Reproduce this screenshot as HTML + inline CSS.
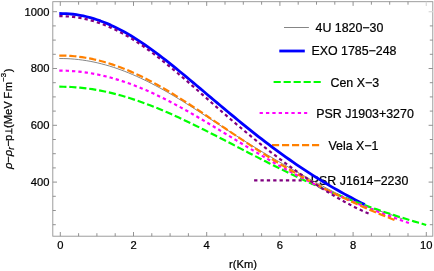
<!DOCTYPE html>
<html><head><meta charset="utf-8"><title>plot</title>
<style>
html,body{margin:0;padding:0;background:#fff;}
body{width:434px;height:271px;overflow:hidden;}
svg{display:block;will-change:transform;}
text{font-family:"Liberation Sans",sans-serif;fill:#000;stroke:#000;stroke-width:0.22px;}
.t{font-size:11.2px;}
.l{font-size:12.4px;stroke-width:0.1px;}
</style></head><body>
<svg width="434" height="271" viewBox="0 0 434 271">
<rect width="434" height="271" fill="#fff"/>
<g fill="none">
<path d="M284,27.5 H308.9" stroke="#777" stroke-width="0.9"/>
<path d="M279.3,51 H304.8" stroke="#0000ff" stroke-width="2.8"/>
<path d="M273.6,82 H320.8" stroke="#00ff00" stroke-width="2.2" stroke-dasharray="7.15 2.85"/>
<path d="M259.6,113 H307.2" stroke="#ff00ff" stroke-width="2.2" stroke-dasharray="3.3 3.06"/>
<path d="M272,145.05 H319.4" stroke="#ff8000" stroke-width="2.2" stroke-dasharray="7.15 2.85"/>
<path d="M254.1,180.45 H301.7" stroke="#800080" stroke-width="2.2" stroke-dasharray="3.3 3.06"/>
</g>
<g class="l">
<text x="315.5" y="32">4U 1820−30</text>
<text x="311.4" y="55.4">EXO 1785−248</text>
<text x="330.5" y="86.7">Cen X−3</text>
<text x="316.3" y="117.8">PSR J1903+3270</text>
<text x="328.5" y="149.6">Vela X−1</text>
<text x="310.8" y="184.7">PSR J1614−2230</text>
</g>
<g fill="none" stroke-linecap="butt" stroke-linejoin="round">
<path d="M59.30,58.52 L63.15,58.54 L67.00,58.65 L70.85,58.86 L74.70,59.16 L78.55,59.56 L82.40,60.05 L86.25,60.63 L90.10,61.31 L93.96,62.07 L97.81,62.93 L101.66,63.88 L105.51,64.91 L109.36,66.03 L113.21,67.24 L117.06,68.53 L120.91,69.91 L124.76,71.36 L128.61,72.89 L132.46,74.50 L136.31,76.18 L140.16,77.94 L144.01,79.76 L147.86,81.65 L151.71,83.61 L155.56,85.63 L159.41,87.70 L163.27,89.83 L167.12,92.01 L170.97,94.24 L174.82,96.52 L178.67,98.84 L182.52,101.19 L186.37,103.59 L190.22,106.01 L194.07,108.45 L197.92,110.92 L201.77,113.41 L205.62,115.91 L209.47,118.42 L213.32,120.93 L217.17,123.44 L221.02,125.95 L224.87,128.45 L228.72,130.94 L232.58,133.41 L236.43,135.87 L240.28,138.32 L244.13,140.74 L247.98,143.14 L251.83,145.52 L255.68,147.88 L259.53,150.21 L263.38,152.53 L267.23,154.82 L271.08,157.09 L274.93,159.34 L278.78,161.57 L282.63,163.79 L286.48,165.99 L290.33,168.18 L294.18,170.36 L298.03,172.53 L301.89,174.69 L305.74,176.83 L309.59,178.97 L313.44,181.09 L317.29,183.19 L321.14,185.27 L324.99,187.33 L328.84,189.36 L332.69,191.36 L336.54,193.32 L340.39,195.24 L344.24,197.11 L348.09,198.91 L351.94,200.66 L355.79,202.33 L359.64,203.91 L363.49,205.42 L367.34,206.84 L371.20,208.19 L375.05,209.48 L378.90,210.73 L382.75,211.95 L386.60,213.18 L390.45,214.44 L394.30,215.79 L398.15,217.25 L402.00,218.87" stroke="#777" stroke-width="0.9"/>
<path d="M59.30,13.52 L62.73,13.54 L66.17,13.67 L69.60,13.91 L73.03,14.26 L76.46,14.72 L79.90,15.29 L83.33,15.97 L86.76,16.75 L90.19,17.64 L93.63,18.64 L97.06,19.74 L100.49,20.94 L103.92,22.25 L107.36,23.65 L110.79,25.15 L114.22,26.75 L117.65,28.44 L121.09,30.22 L124.52,32.09 L127.95,34.04 L131.38,36.07 L134.82,38.19 L138.25,40.38 L141.68,42.64 L145.11,44.97 L148.55,47.36 L151.98,49.82 L155.41,52.34 L158.84,54.91 L162.28,57.52 L165.71,60.19 L169.14,62.89 L172.58,65.63 L176.01,68.41 L179.44,71.21 L182.87,74.04 L186.31,76.88 L189.74,79.75 L193.17,82.62 L196.60,85.51 L200.04,88.40 L203.47,91.30 L206.90,94.20 L210.33,97.10 L213.77,100.00 L217.20,102.89 L220.63,105.77 L224.06,108.65 L227.50,111.51 L230.93,114.36 L234.36,117.20 L237.79,120.02 L241.23,122.83 L244.66,125.61 L248.09,128.38 L251.52,131.12 L254.96,133.84 L258.39,136.53 L261.82,139.20 L265.26,141.84 L268.69,144.45 L272.12,147.04 L275.55,149.60 L278.99,152.12 L282.42,154.62 L285.85,157.08 L289.28,159.51 L292.72,161.91 L296.15,164.28 L299.58,166.61 L303.01,168.91 L306.45,171.17 L309.88,173.41 L313.31,175.61 L316.74,177.77 L320.18,179.90 L323.61,182.00 L327.04,184.07 L330.47,186.10 L333.91,188.10 L337.34,190.06 L340.77,191.99 L344.20,193.89 L347.64,195.76 L351.07,197.59 L354.50,199.39 L357.93,201.15 L361.37,202.88 L364.80,204.58" stroke="#0000ff" stroke-width="2.8"/>
<path d="M59.30,86.71 L63.42,86.73 L67.54,86.83 L71.67,87.02 L75.79,87.29 L79.91,87.65 L84.03,88.08 L88.16,88.60 L92.28,89.20 L96.40,89.88 L100.52,90.63 L104.65,91.47 L108.77,92.38 L112.89,93.36 L117.01,94.42 L121.14,95.55 L125.26,96.75 L129.38,98.02 L133.50,99.35 L137.63,100.74 L141.75,102.19 L145.87,103.70 L149.99,105.27 L154.12,106.89 L158.24,108.56 L162.36,110.28 L166.48,112.04 L170.61,113.85 L174.73,115.70 L178.85,117.58 L182.97,119.51 L187.10,121.46 L191.22,123.44 L195.34,125.45 L199.46,127.49 L203.59,129.55 L207.71,131.62 L211.83,133.72 L215.95,135.83 L220.08,137.95 L224.20,140.07 L228.32,142.21 L232.44,144.35 L236.57,146.49 L240.69,148.63 L244.81,150.77 L248.93,152.90 L253.06,155.03 L257.18,157.14 L261.30,159.25 L265.42,161.35 L269.55,163.43 L273.67,165.50 L277.79,167.55 L281.91,169.58 L286.04,171.60 L290.16,173.59 L294.28,175.56 L298.40,177.51 L302.53,179.43 L306.65,181.33 L310.77,183.20 L314.89,185.05 L319.02,186.87 L323.14,188.66 L327.26,190.42 L331.38,192.16 L335.51,193.87 L339.63,195.55 L343.75,197.20 L347.87,198.82 L352.00,200.42 L356.12,201.98 L360.24,203.52 L364.36,205.03 L368.49,206.52 L372.61,207.98 L376.73,209.41 L380.85,210.82 L384.98,212.20 L389.10,213.56 L393.22,214.91 L397.34,216.23 L401.47,217.53 L405.59,218.81 L409.71,220.08 L413.83,221.33 L417.96,222.56 L422.08,223.79 L426.20,225.01" stroke="#00ff00" stroke-width="2.2" stroke-dasharray="7.15 2.85"/>
<path d="M59.30,70.62 L63.23,70.65 L67.16,70.76 L71.08,70.96 L75.01,71.25 L78.94,71.62 L82.87,72.07 L86.80,72.61 L90.72,73.23 L94.65,73.94 L98.58,74.72 L102.51,75.59 L106.44,76.54 L110.37,77.56 L114.29,78.67 L118.22,79.85 L122.15,81.10 L126.08,82.43 L130.01,83.82 L133.93,85.29 L137.86,86.83 L141.79,88.43 L145.72,90.10 L149.65,91.82 L153.57,93.61 L157.50,95.46 L161.43,97.36 L165.36,99.31 L169.29,101.31 L173.21,103.36 L177.14,105.46 L181.07,107.60 L185.00,109.78 L188.93,111.99 L192.86,114.23 L196.78,116.51 L200.71,118.81 L204.64,121.14 L208.57,123.48 L212.50,125.85 L216.42,128.22 L220.35,130.60 L224.28,132.99 L228.21,135.39 L232.14,137.78 L236.06,140.17 L239.99,142.56 L243.92,144.94 L247.85,147.30 L251.78,149.66 L255.70,152.00 L259.63,154.33 L263.56,156.63 L267.49,158.92 L271.42,161.18 L275.34,163.42 L279.27,165.63 L283.20,167.82 L287.13,169.98 L291.06,172.12 L294.99,174.22 L298.91,176.30 L302.84,178.34 L306.77,180.35 L310.70,182.34 L314.63,184.29 L318.55,186.21 L322.48,188.10 L326.41,189.95 L330.34,191.78 L334.27,193.57 L338.19,195.34 L342.12,197.07 L346.05,198.78 L349.98,200.46 L353.91,202.12 L357.83,203.74 L361.76,205.35 L365.69,206.93 L369.62,208.49 L373.55,210.03 L377.48,211.55 L381.40,213.05 L385.33,214.52 L389.26,215.98 L393.19,217.42 L397.12,218.84 L401.04,220.25 L404.97,221.63 L408.90,222.99" stroke="#ff00ff" stroke-width="2.2" stroke-dasharray="3.3 3.06"/>
<path d="M59.30,55.55 L63.07,55.58 L66.83,55.71 L70.60,55.93 L74.37,56.24 L78.13,56.65 L81.90,57.15 L85.66,57.74 L89.43,58.43 L93.20,59.20 L96.96,60.06 L100.73,61.02 L104.50,62.05 L108.26,63.18 L112.03,64.38 L115.79,65.67 L119.56,67.04 L123.33,68.49 L127.09,70.02 L130.86,71.62 L134.63,73.29 L138.39,75.04 L142.16,76.85 L145.92,78.73 L149.69,80.67 L153.46,82.68 L157.22,84.74 L160.99,86.86 L164.76,89.03 L168.52,91.26 L172.29,93.52 L176.06,95.84 L179.82,98.19 L183.59,100.58 L187.35,103.01 L191.12,105.46 L194.89,107.94 L198.65,110.44 L202.42,112.96 L206.19,115.50 L209.95,118.05 L213.72,120.60 L217.48,123.16 L221.25,125.72 L225.02,128.28 L228.78,130.83 L232.55,133.38 L236.32,135.91 L240.08,138.44 L243.85,140.95 L247.61,143.44 L251.38,145.91 L255.15,148.36 L258.91,150.79 L262.68,153.20 L266.45,155.58 L270.21,157.93 L273.98,160.26 L277.74,162.56 L281.51,164.83 L285.28,167.07 L289.04,169.28 L292.81,171.45 L296.58,173.60 L300.34,175.72 L304.11,177.80 L307.88,179.86 L311.64,181.88 L315.41,183.88 L319.17,185.84 L322.94,187.78 L326.71,189.70 L330.47,191.58 L334.24,193.44 L338.01,195.28 L341.77,197.09 L345.54,198.87 L349.30,200.63 L353.07,202.37 L356.84,204.09 L360.60,205.78 L364.37,207.45 L368.14,209.09 L371.90,210.72 L375.67,212.32 L379.43,213.89 L383.20,215.45 L386.97,216.98 L390.73,218.49 L394.50,219.97" stroke="#ff8000" stroke-width="2.2" stroke-dasharray="7.15 2.85"/>
<path d="M59.30,16.15 L62.78,16.17 L66.25,16.31 L69.73,16.55 L73.21,16.91 L76.68,17.38 L80.16,17.95 L83.63,18.64 L87.11,19.43 L90.59,20.33 L94.06,21.34 L97.54,22.45 L101.02,23.66 L104.49,24.99 L107.97,26.41 L111.45,27.93 L114.92,29.56 L118.40,31.29 L121.88,33.11 L125.35,35.02 L128.83,37.04 L132.30,39.14 L135.78,41.33 L139.26,43.60 L142.73,45.96 L146.21,48.39 L149.69,50.90 L153.16,53.47 L156.64,56.11 L160.12,58.81 L163.59,61.56 L167.07,64.37 L170.54,67.21 L174.02,70.10 L177.50,73.02 L180.97,75.97 L184.45,78.95 L187.93,81.95 L191.40,84.97 L194.88,88.00 L198.36,91.04 L201.83,94.09 L205.31,97.15 L208.79,100.20 L212.26,103.25 L215.74,106.30 L219.21,109.34 L222.69,112.37 L226.17,115.38 L229.64,118.38 L233.12,121.36 L236.60,124.32 L240.07,127.26 L243.55,130.18 L247.03,133.08 L250.50,135.94 L253.98,138.79 L257.46,141.60 L260.93,144.39 L264.41,147.14 L267.88,149.87 L271.36,152.57 L274.84,155.23 L278.31,157.87 L281.79,160.48 L285.27,163.05 L288.74,165.60 L292.22,168.12 L295.70,170.60 L299.17,173.06 L302.65,175.49 L306.12,177.88 L309.60,180.24 L313.08,182.57 L316.55,184.86 L320.03,187.11 L323.51,189.33 L326.98,191.50 L330.46,193.63 L333.94,195.72 L337.41,197.76 L340.89,199.75 L344.37,201.69 L347.84,203.57 L351.32,205.39 L354.79,207.15 L358.27,208.84 L361.75,210.47 L365.22,212.02 L368.70,213.49" stroke="#800080" stroke-width="2.2" stroke-dasharray="3.3 3.06"/>
</g>
<g fill="none" stroke="#868686" stroke-width="0.9">
<rect x="52.8" y="1.7" width="380.0" height="234.5" stroke="#939393"/>
<path d="M60.30,236.2 v-4.2 M60.30,1.7 v4.2"/>
<path d="M78.60,236.2 v-3.0 M78.60,1.7 v3.0"/>
<path d="M96.90,236.2 v-3.0 M96.90,1.7 v3.0"/>
<path d="M115.20,236.2 v-3.0 M115.20,1.7 v3.0"/>
<path d="M133.50,236.2 v-4.2 M133.50,1.7 v4.2"/>
<path d="M151.80,236.2 v-3.0 M151.80,1.7 v3.0"/>
<path d="M170.10,236.2 v-3.0 M170.10,1.7 v3.0"/>
<path d="M188.40,236.2 v-3.0 M188.40,1.7 v3.0"/>
<path d="M206.70,236.2 v-4.2 M206.70,1.7 v4.2"/>
<path d="M225.00,236.2 v-3.0 M225.00,1.7 v3.0"/>
<path d="M243.30,236.2 v-3.0 M243.30,1.7 v3.0"/>
<path d="M261.60,236.2 v-3.0 M261.60,1.7 v3.0"/>
<path d="M279.90,236.2 v-4.2 M279.90,1.7 v4.2"/>
<path d="M298.20,236.2 v-3.0 M298.20,1.7 v3.0"/>
<path d="M316.50,236.2 v-3.0 M316.50,1.7 v3.0"/>
<path d="M334.80,236.2 v-3.0 M334.80,1.7 v3.0"/>
<path d="M353.10,236.2 v-4.2 M353.10,1.7 v4.2"/>
<path d="M371.40,236.2 v-3.0 M371.40,1.7 v3.0"/>
<path d="M389.70,236.2 v-3.0 M389.70,1.7 v3.0"/>
<path d="M408.00,236.2 v-3.0 M408.00,1.7 v3.0"/>
<path d="M426.30,236.2 v-4.2"/><path d="M426.30,1.7 v4.2" stroke="#dcdcdc" stroke-width="1.3"/>
<path d="M52.8,224.70 h3.0 M432.8,224.70 h-3.0"/>
<path d="M52.8,210.50 h3.0 M432.8,210.50 h-3.0"/>
<path d="M52.8,196.30 h3.0 M432.8,196.30 h-3.0"/>
<path d="M52.8,182.10 h4.2 M432.8,182.10 h-4.2"/>
<path d="M52.8,167.90 h3.0 M432.8,167.90 h-3.0"/>
<path d="M52.8,153.70 h3.0 M432.8,153.70 h-3.0"/>
<path d="M52.8,139.50 h3.0 M432.8,139.50 h-3.0"/>
<path d="M52.8,125.30 h4.2 M432.8,125.30 h-4.2"/>
<path d="M52.8,111.10 h3.0 M432.8,111.10 h-3.0"/>
<path d="M52.8,96.90 h3.0 M432.8,96.90 h-3.0"/>
<path d="M52.8,82.70 h3.0 M432.8,82.70 h-3.0"/>
<path d="M52.8,68.50 h4.2 M432.8,68.50 h-4.2"/>
<path d="M52.8,54.30 h3.0 M432.8,54.30 h-3.0"/>
<path d="M52.8,40.10 h3.0 M432.8,40.10 h-3.0"/>
<path d="M52.8,25.90 h3.0 M432.8,25.90 h-3.0"/>
<path d="M52.8,11.70 h4.2"/><path d="M432.8,11.70 h-4.2" stroke="#dcdcdc" stroke-width="1.3"/>
</g>
<g class="t" text-anchor="end">
<text x="49.4" y="15.6">1000</text>
<text x="49.4" y="72.4">800</text>
<text x="49.4" y="129.2">600</text>
<text x="49.4" y="186.0">400</text>
</g>
<g class="t" text-anchor="middle">
<text x="60.3" y="248.8">0</text>
<text x="133.5" y="248.8">2</text>
<text x="206.7" y="248.8">4</text>
<text x="279.9" y="248.8">6</text>
<text x="353.1" y="248.8">8</text>
<text x="426.3" y="248.8">10</text>
<text x="243.1" y="267.8">r(Km)</text>
</g>
<g class="t" transform="translate(12.2,169.5) rotate(-90)">
<text y="0" x="0.4 13.2" font-style="italic">ρρ</text>
<text y="0" x="6.7 23.05 28.57">−−p</text>
<text y="1.5" x="19.8" font-style="italic" font-size="8.5">r</text>
<path d="M35.6,-0.4 h5.6 M38.4,-0.4 v-6.6" stroke="#000" stroke-width="1" fill="none"/>
<text y="0" x="41.56 45.37 54.55 60.68 70.86 78.37 97.2">(MeVFm)</text>
<text y="-5.8" x="87.74" font-size="7.8">−3</text>
</g>
</svg>
</body></html>
